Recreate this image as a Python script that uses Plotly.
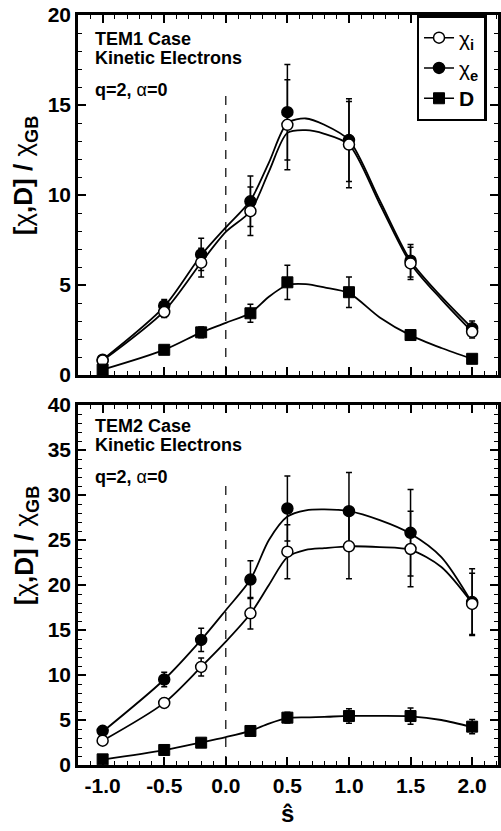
import plotly.graph_objects as go

# ---------------- data ----------------
s_hat = [-1.0, -0.5, -0.2, 0.2, 0.5, 1.0, 1.5, 2.0]

tem1_chi_i = [0.8, 3.5, 6.24, 9.1, 13.9, 12.8, 6.2, 2.4]
tem1_chi_i_err = [0.1, 0.3, 0.8, 1.35, 2.5, 2.4, 0.9, 0.35]
tem1_chi_e = [0.85, 3.85, 6.7, 9.65, 14.6, 13.05, 6.35, 2.6]
tem1_chi_e_err = [0.1, 0.35, 0.9, 1.4, 2.65, 2.3, 0.9, 0.4]
tem1_D = [0.3, 1.4, 2.37, 3.43, 5.15, 4.6, 2.22, 0.9]
tem1_D_err = [0.0, 0.1, 0.3, 0.5, 0.95, 0.85, 0.25, 0.1]

tem2_chi_i = [2.7, 6.9, 10.9, 16.85, 23.7, 24.3, 24.0, 17.9]
tem2_chi_i_err = [0.3, 0.5, 1.0, 1.75, 3.0, 3.6, 4.2, 3.4]
tem2_chi_e = [3.8, 9.5, 13.9, 20.6, 28.5, 28.2, 25.8, 18.1]
tem2_chi_e_err = [0.3, 0.8, 1.3, 2.1, 3.6, 4.3, 4.8, 3.7]
tem2_D = [0.63, 1.67, 2.48, 3.78, 5.26, 5.44, 5.44, 4.26]
tem2_D_err = [0.1, 0.2, 0.2, 0.3, 0.6, 0.8, 0.9, 0.8]

# smooth fitted curves
fit_s = [-1.0, -0.5, -0.2, 0.0, 0.2, 0.35, 0.5, 0.65, 0.8, 1.0, 1.25, 1.5, 1.75, 2.0]
tem1_fit_chi_e = [0.85, 3.8, 6.65, 8.2, 9.7, 11.8, 14.0, 14.25, 13.9, 13.05, 9.7, 6.35, 4.35, 2.6]
tem1_fit_chi_i = [0.8, 3.55, 6.25, 7.95, 9.1, 11.3, 13.45, 13.6, 13.4, 12.8, 9.5, 6.2, 4.2, 2.4]
tem1_fit_D = [0.3, 1.4, 2.37, 2.9, 3.45, 4.35, 5.0, 5.05, 4.87, 4.55, 3.2, 2.2, 1.5, 0.9]
tem2_fit_chi_e = [3.7, 9.5, 13.9, 17.2, 20.6, 25.0, 27.6, 28.3, 28.4, 28.2, 27.2, 25.7, 23.1, 18.0]
tem2_fit_chi_i = [2.7, 6.9, 10.9, 13.7, 16.8, 20.0, 23.1, 23.9, 24.1, 24.3, 24.2, 23.9, 22.0, 18.0]
tem2_fit_D = [0.6, 1.65, 2.5, 3.1, 3.8, 4.6, 5.2, 5.3, 5.35, 5.45, 5.45, 5.4, 5.0, 4.2]

x_ticks = [-1.0, -0.5, 0.0, 0.5, 1.0, 1.5, 2.0]
x_tick_text = ["-1.0", "-0.5", "0.0", "0.5", "1.0", "1.5", "2.0"]
top_y_ticks = [0, 5, 10, 15, 20]
bot_y_ticks = [0, 5, 10, 15, 20, 25, 30, 35, 40]

legend_names = ["χ<sub><b>i</b></sub>", "χ<sub><b>e</b></sub>", "<b>D</b>"]

# ---------------- figure ----------------
FONT = "Liberation Sans, Arial, sans-serif"
NARROW = "Liberation Sans Narrow, Arial Narrow, Liberation Sans, sans-serif"
fig = go.Figure()

def add_panel(xa, ya, fit_e, fit_i, fit_d, ci, ci_err, ce, ce_err, d, d_err):
    for fy in (fit_i, fit_e, fit_d):
        fig.add_trace(go.Scatter(x=fit_s, y=fy, mode="lines", xaxis=xa, yaxis=ya,
                                 line=dict(color="black", width=1.8, shape="spline", smoothing=0.8),
                                 showlegend=False, hoverinfo="skip"))
    eb = dict(type="data", color="black", thickness=1.5, width=3)
    fig.add_trace(go.Scatter(x=s_hat, y=ce, mode="markers", xaxis=xa, yaxis=ya,
                             error_y=dict(array=ce_err, **eb),
                             marker=dict(symbol="circle", size=11, color="black",
                                         line=dict(color="black", width=1.5)),
                             showlegend=False))
    fig.add_trace(go.Scatter(x=s_hat, y=ci, mode="markers", xaxis=xa, yaxis=ya,
                             error_y=dict(array=ci_err, **eb),
                             marker=dict(symbol="circle", size=11, color="white",
                                         line=dict(color="black", width=1.5)),
                             showlegend=False))
    fig.add_trace(go.Scatter(x=s_hat, y=d, mode="markers", xaxis=xa, yaxis=ya,
                             error_y=dict(array=d_err, **eb),
                             marker=dict(symbol="square", size=11, color="black",
                                         line=dict(color="black", width=1)),
                             showlegend=False))

add_panel("x", "y", tem1_fit_chi_e, tem1_fit_chi_i, tem1_fit_D,
          tem1_chi_i, tem1_chi_i_err, tem1_chi_e, tem1_chi_e_err, tem1_D, tem1_D_err)
add_panel("x2", "y2", tem2_fit_chi_e, tem2_fit_chi_i, tem2_fit_D,
          tem2_chi_i, tem2_chi_i_err, tem2_chi_e, tem2_chi_e_err, tem2_D, tem2_D_err)

# legend entries
leg_styles = [
    dict(symbol="circle", size=11, color="white", line=dict(color="black", width=1.5)),
    dict(symbol="circle", size=11, color="black", line=dict(color="black", width=1.5)),
    dict(symbol="square", size=11, color="black", line=dict(color="black", width=1)),
]
for name, mk in zip(legend_names, leg_styles):
    fig.add_trace(go.Scatter(x=[None], y=[None], mode="lines+markers", name=name,
                             xaxis="x", yaxis="y", marker=mk,
                             line=dict(color="black", width=1.5)))

tickfont = dict(family=NARROW, size=21, color="black", weight="bold")
common_x = dict(range=[-1.2, 2.21], tickvals=x_ticks, ticktext=x_tick_text,
                ticks="inside", ticklen=8, tickwidth=1.5, tickcolor="black",
                showline=True, linecolor="black", linewidth=2.5, mirror="ticks",
                showgrid=False, zeroline=False, tickfont=tickfont,
                minor=dict(dtick=0.1, tick0=0, ticks="inside", ticklen=4, tickwidth=1.2,
                           tickcolor="black", showgrid=False))
common_y = dict(ticks="inside", ticklen=8, tickwidth=1.5, tickcolor="black",
                showline=True, linecolor="black", linewidth=2.5, mirror="ticks",
                showgrid=False, zeroline=False, tickfont=tickfont,
                minor=dict(dtick=1, tick0=0, ticks="inside", ticklen=4, tickwidth=1.2,
                           tickcolor="black", showgrid=False))

fig.update_layout(
    width=501, height=831,
    margin=dict(l=78, r=0, t=15, b=66),
    paper_bgcolor="white", plot_bgcolor="white",
    font=dict(family=FONT, color="black"),
    xaxis=dict(anchor="y", domain=[0, 1], showticklabels=False, **common_x),
    yaxis=dict(anchor="x", domain=[0.52, 1], range=[0, 20], tickvals=top_y_ticks, **common_y),
    xaxis2=dict(anchor="y2", domain=[0, 1], showticklabels=True, **common_x),
    yaxis2=dict(anchor="x2", domain=[0, 0.48], range=[0, 40], tickvals=bot_y_ticks, **common_y),
    legend=dict(x=0.806, y=1, xanchor="left", yanchor="top",
                bgcolor="white", bordercolor="black", borderwidth=2.5,
                font=dict(family=NARROW, size=21, color="black"),
                itemwidth=30, tracegroupgap=0),
    showlegend=True,
)

# dashed reference lines at s=0
fig.add_shape(type="line", xref="x", yref="y", x0=0, x1=0, y0=0, y1=16,
              line=dict(color="black", width=1.2, dash="dash"))
fig.add_shape(type="line", xref="x2", yref="y2", x0=0, x1=0, y0=0, y1=32,
              line=dict(color="black", width=1.2, dash="dash"))

def txt(text, y, size=18):
    fig.add_annotation(text=text, xref="paper", yref="paper", x=0.035, y=y,
                       xanchor="left", yanchor="middle", showarrow=False,
                       font=dict(family=FONT, size=size, color="black", weight="bold"))

txt("TEM1 Case", 0.968)
txt("Kinetic Electrons", 0.9427)
txt("q=2, <span style='font-weight:normal'>α</span>=0", 0.9)
txt("TEM2 Case", 0.452)
txt("Kinetic Electrons", 0.4267)
txt("q=2, <span style='font-weight:normal'>α</span>=0", 0.384)

# y axis titles
for yy in (0.7867, 0.2933):
    fig.add_annotation(text="<b>[</b>χ<b>,D] / </b>χ<sub><b>GB</b></sub>", xref="paper", yref="paper",
                       x=-0.1256, y=yy, xanchor="center", yanchor="middle", textangle=-90,
                       showarrow=False, font=dict(family=NARROW, size=26, color="black"))

# x axis title
fig.add_annotation(text="ŝ", xref="x2", yref="paper", x=0.5, y=-0.064,
                   xanchor="center", yanchor="middle", showarrow=False,
                   font=dict(family=NARROW, size=24, color="black", weight="bold"))

fig.write_html("out.html")
